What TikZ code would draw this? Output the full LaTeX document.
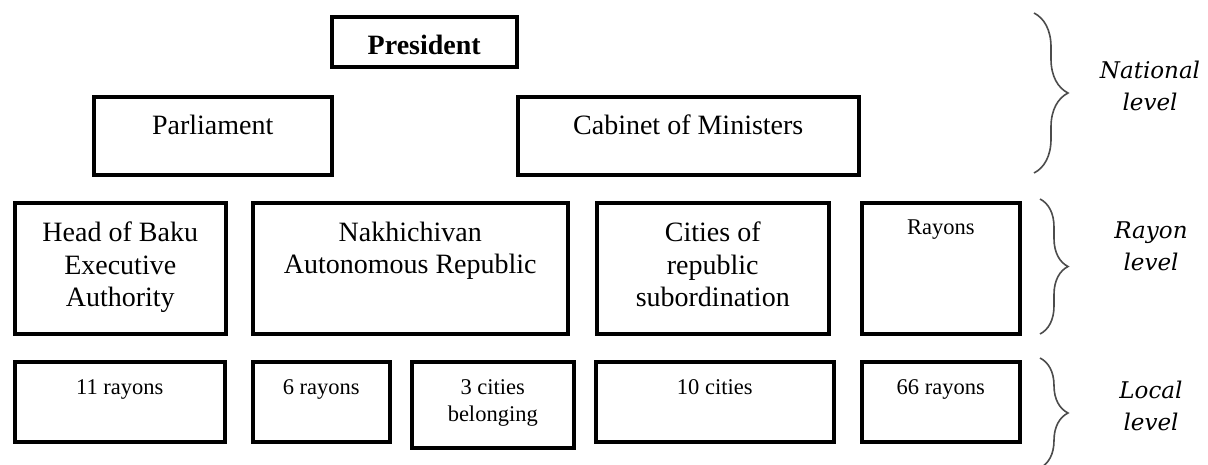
\documentclass[tikz,border=0pt]{standalone}
\usepackage{fontspec}
\setmainfont{Liberation Serif}
\newfontfamily\levelfont{DejaVu Serif}
\usetikzlibrary{decorations.pathreplacing}

\begin{document}
\begin{tikzpicture}[x=1pt,y=-1pt,
	box/.style={draw, line width=3.5pt, inner sep=0pt, anchor=north west, align=center, font=\fontsize{28}{32.5}\selectfont},
	smallbox/.style={box, font=\fontsize{22.5}{27}\selectfont},
	brace/.style={draw=black!70, line width=1.6pt, decorate, decoration={brace, amplitude=#1}},
	level/.style={align=center, font=\levelfont\itshape\fontsize{23}{32}\selectfont}]

	\useasboundingbox (0,0) rectangle (1208,464);

	% national level
	\node[box, font=\bfseries\fontsize{28}{32.5}\selectfont, minimum width=185pt, text height=38pt, text depth=12pt] (president) at (330,15) {President};
	\node[box, minimum width=238pt, text height=38pt, text depth=40pt] (parliament) at (92,95) {Parliament};
	\node[box, minimum width=341pt, text height=38pt, text depth=40pt] (cabinet) at (516,95) {Cabinet of Ministers};

	% rayon level
	\node[box, minimum width=211pt, text height=104pt, text depth=27pt] (baku) at (13,201) {Head of Baku\\Executive\\Authority};
	\node[box, minimum width=315pt, text height=71pt, text depth=60pt] (nakhichivan) at (251,201) {Nakhichivan\\Autonomous Republic};
	\node[box, minimum width=232pt, text height=104pt, text depth=27pt] (cities) at (595,201) {Cities of\\republic\\subordination};
	\node[smallbox, minimum width=158pt, text height=32pt, text depth=99pt] (rayons) at (860,201) {Rayons};

	% local level
	\node[smallbox, minimum width=210pt, text height=33pt, text depth=47pt] (bakurayons) at (13,360) {11 rayons};
	\node[smallbox, minimum width=137pt, text height=33pt, text depth=47pt] (nakhrayons) at (251,360) {6 rayons};
	\node[smallbox, minimum width=162pt, text height=60pt, text depth=26pt] (nakhcities) at (410,360) {3 cities\\belonging};
	\node[smallbox, minimum width=238pt, text height=33pt, text depth=47pt] (tencities) at (594,360) {10 cities};
	\node[smallbox, minimum width=158pt, text height=33pt, text depth=47pt] (allrayons) at (860,360) {66 rayons};

	\coordinate (nat top) at (1034,13);
	\coordinate (nat bot) at (1034,173);
	\coordinate (ray top) at (1040,199);
	\coordinate (ray bot) at (1040,334);
	\coordinate (loc top) at (1040,358);
	\coordinate (loc bot) at (1040,468);
	\draw[brace=34pt] (nat top) -- (nat bot);
	\draw[brace=28pt] (ray top) -- (ray bot);
	\draw[brace=28pt] (loc top) -- (loc bot);

	\node[level] (national) at (1150,86) {National\\level};
	\node[level] (rayon) at (1151,246) {Rayon\\level};
	\node[level] (local) at (1151,406) {Local\\level};

\end{tikzpicture}
\end{document}
